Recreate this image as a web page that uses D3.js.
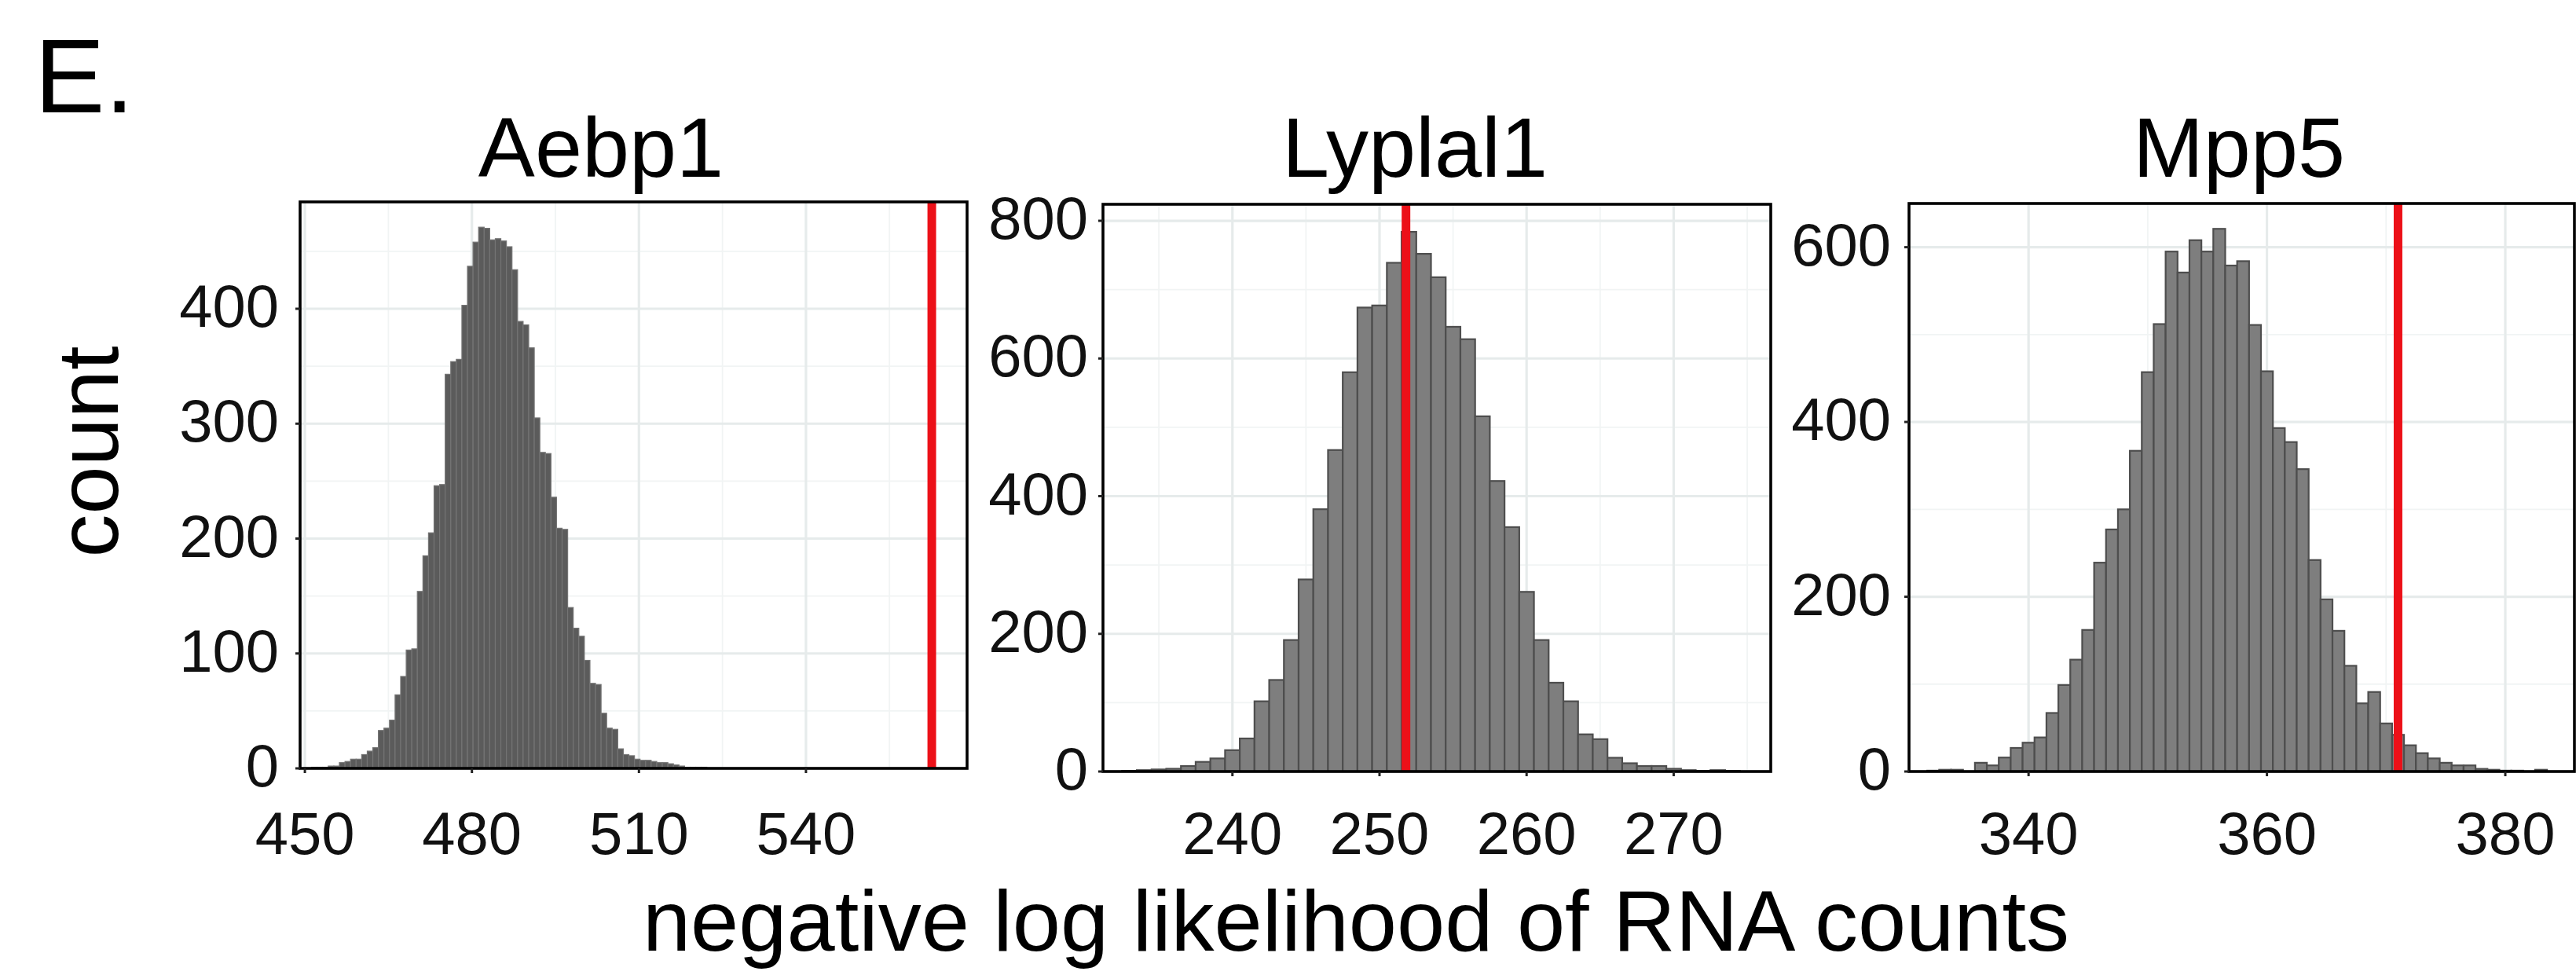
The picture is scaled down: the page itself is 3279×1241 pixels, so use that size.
<!DOCTYPE html>
<html><head><meta charset="utf-8">
<script src="https://cdn.jsdelivr.net/npm/d3@7"></script>
<style>html,body{margin:0;padding:0;background:#fff;} svg{display:block;}</style>
</head><body>
<script>
// ---------------- DATA ----------------
const geneNames = ["Aebp1", "Lyplal1", "Mpp5"];
const binWidth = 1;

// Aebp1: histogram counts, first bin starts at aebp1BinStart
const aebp1BinStart = 451.2;
const aebp1Counts = [1,1,1,2,2,5,6,8,8,12,15,18,33,35,42,64,80,103,104,154,185,205,246,247,
  343,354,356,403,437,458,471,470,460,461,459,454,434,389,386,366,305,275,274,236,209,208,
  140,122,115,94,74,73,48,35,34,17,12,11,8,7,7,6,5,5,4,3,2,1,1,1,1];

// Lyplal1
const lyplal1BinStart = 232.5;
const lyplal1Counts = [1,2,3,4,8,14,19,31,48,102,133,191,279,381,467,580,674,677,739,784,
  752,718,646,628,516,422,355,261,191,129,102,54,47,20,12,8,8,4,2,1,2,1];

// Mpp5
const mpp5BinStart = 331.5;
const mpp5Counts = [1,2,2,0,10,7,16,27,33,39,67,99,128,162,239,277,300,367,457,512,595,571,
  608,595,621,579,584,511,458,393,377,346,242,197,161,121,78,91,55,42,30,21,15,10,7,7,3,2,1,1,0,2];

// observed negative log likelihood (red lines)
const observedNLL = [562.6, 251.8, 371.0];

// tick labels
const aebp1XTicks = [450, 480, 510, 540];
const lyplal1XTicks = [240, 250, 260, 270];
const mpp5XTicks = [340, 360, 380];
const aebp1YTicks = [0, 100, 200, 300, 400];
const lyplal1YTicks = [0, 200, 400, 600, 800];
const mpp5YTicks = [0, 200, 400, 600];

const panelLabel = "E.";
const yTitle = "count";
const xTitle = "negative log likelihood of RNA counts";

// ---------------- LAYOUT ----------------
const W = 3279, H = 1241;
const FONT = "'Liberation Sans', Arial, Helvetica, sans-serif";
const layout = [
  {left: 382, right: 1231, top: 257, bottom: 978, xDom: [449.14, 568.94], yMax: 493, titleX: 765, labelGap: 27,
   fill: "#5b5b5b", stroke: "#747474", sw: 1.2},
  {left: 1404, right: 2254, top: 260, bottom: 982, xDom: [231.2, 276.6], yMax: 824, titleX: 1801, labelGap: 19,
   fill: "#7e7e7e", stroke: "#4e4e4e", sw: 2.2},
  {left: 2430, right: 3277, top: 259, bottom: 982, xDom: [329.97, 385.8], yMax: 650, titleX: 2850, labelGap: 23,
   fill: "#7e7e7e", stroke: "#4e4e4e", sw: 2.2}
];
const binStarts = [aebp1BinStart, lyplal1BinStart, mpp5BinStart];
const countsList = [aebp1Counts, lyplal1Counts, mpp5Counts];
const xTicksList = [aebp1XTicks, lyplal1XTicks, mpp5XTicks];
const yTicksList = [aebp1YTicks, lyplal1YTicks, mpp5YTicks];

const svg = d3.select("body").append("svg").attr("width", W).attr("height", H)
  .style("font-family", FONT);
svg.append("rect").attr("width", W).attr("height", H).attr("fill", "#fff");

function minorTicks(ticks, dom) {
  const step = ticks[1] - ticks[0];
  const out = [];
  for (let v = ticks[0] - step / 2; v <= dom[1]; v += step) if (v >= dom[0]) out.push(v);
  return out;
}

layout.forEach((L, p) => {
  const x = d3.scaleLinear().domain(L.xDom).range([L.left, L.right]);
  const y = d3.scaleLinear().domain([0, L.yMax]).range([L.bottom, L.top]);
  const g = svg.append("g");
  const clipId = "clip" + p;
  svg.append("clipPath").attr("id", clipId).append("rect")
    .attr("x", L.left).attr("y", L.top).attr("width", L.right - L.left).attr("height", L.bottom - L.top);
  const inner = g.append("g").attr("clip-path", `url(#${clipId})`);

  const xt = xTicksList[p], yt = yTicksList[p];
  const yDom = [0, L.yMax];
  // minor grid
  inner.selectAll(".mx").data(minorTicks(xt, L.xDom)).join("line")
    .attr("x1", d => x(d)).attr("x2", d => x(d)).attr("y1", L.top).attr("y2", L.bottom)
    .attr("stroke", "#f1f4f4").attr("stroke-width", 1.8);
  inner.selectAll(".my").data(minorTicks(yt, yDom)).join("line")
    .attr("y1", d => y(d)).attr("y2", d => y(d)).attr("x1", L.left).attr("x2", L.right)
    .attr("stroke", "#f1f4f4").attr("stroke-width", 1.8);
  // major grid
  inner.selectAll(".Mx").data(xt).join("line")
    .attr("x1", d => x(d)).attr("x2", d => x(d)).attr("y1", L.top).attr("y2", L.bottom)
    .attr("stroke", "#e6ebeb").attr("stroke-width", 3.2);
  inner.selectAll(".My").data(yt).join("line")
    .attr("y1", d => y(d)).attr("y2", d => y(d)).attr("x1", L.left).attr("x2", L.right)
    .attr("stroke", "#e6ebeb").attr("stroke-width", 3.2);

  // bars
  const bins = countsList[p].map((c, i) => ({x0: binStarts[p] + i * binWidth, x1: binStarts[p] + (i + 1) * binWidth, c}))
    .filter(b => b.c > 0);
  inner.selectAll(".bar").data(bins).join("rect")
    .attr("x", d => x(d.x0)).attr("width", d => x(d.x1) - x(d.x0))
    .attr("y", d => y(d.c)).attr("height", d => y(0) - y(d.c))
    .attr("fill", L.fill).attr("stroke", L.stroke).attr("stroke-width", L.sw);

  // observed line
  inner.append("line").attr("x1", x(observedNLL[p])).attr("x2", x(observedNLL[p]))
    .attr("y1", L.top).attr("y2", L.bottom).attr("stroke", "#ec1018").attr("stroke-width", 11);

  // border
  g.append("rect").attr("x", L.left).attr("y", L.top).attr("width", L.right - L.left).attr("height", L.bottom - L.top)
    .attr("fill", "none").attr("stroke", "#000").attr("stroke-width", 3.6);

  // ticks
  g.selectAll(".yt").data(yt).join("line")
    .attr("x1", L.left - 6).attr("x2", L.left).attr("y1", d => y(d)).attr("y2", d => y(d))
    .attr("stroke", "#222").attr("stroke-width", 3);
  g.selectAll(".xt").data(xt).join("line")
    .attr("y1", L.bottom).attr("y2", L.bottom + 6).attr("x1", d => x(d)).attr("x2", d => x(d))
    .attr("stroke", "#222").attr("stroke-width", 3);

  // tick labels
  g.selectAll(".yl").data(yt).join("text")
    .attr("x", L.left - L.labelGap).attr("y", d => y(d) + 23)
    .attr("text-anchor", "end").attr("font-size", 76).attr("fill", "#111")
    .text(d => d);
  g.selectAll(".xl").data(xt).join("text")
    .attr("x", d => x(d)).attr("y", 1087)
    .attr("text-anchor", "middle").attr("font-size", 76).attr("fill", "#111")
    .text(d => d);

  // title
  g.append("text").attr("x", L.titleX).attr("y", 225).attr("text-anchor", "middle")
    .attr("font-size", 108).attr("fill", "#000").text(geneNames[p]);
});

svg.append("text").attr("x", 44).attr("y", 143).attr("font-size", 134).attr("fill", "#000").text(panelLabel);
svg.append("text").attr("transform", "translate(150,575) rotate(-90)").attr("text-anchor", "middle")
  .attr("font-size", 110).attr("fill", "#000").text(yTitle);
svg.append("text").attr("x", 1726).attr("y", 1210).attr("text-anchor", "middle")
  .attr("font-size", 110).attr("fill", "#000").text(xTitle);
</script>
</body></html>
